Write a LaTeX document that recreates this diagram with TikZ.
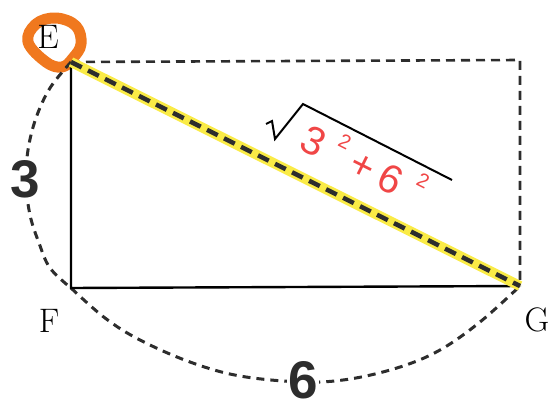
\documentclass[tikz,border=0pt]{standalone}
\usepackage{fontspec}
\newfontfamily\numsans{Liberation Sans}
\definecolor{hlyellow}{RGB}{250,235,70}
\definecolor{markorange}{RGB}{240,120,30}
\definecolor{numred}{RGB}{240,70,70}
\definecolor{darkgray}{RGB}{45,45,45}
\tikzset{
  leg/.style={line width=2.4pt, black},
  guide/.style={line width=2.6pt, darkgray, dash pattern=on 9pt off 6pt},
  arcline/.style={line width=3pt, darkgray, dash pattern=on 8pt off 6pt},
  vlabel/.style={font=\fontsize{34}{34}\selectfont, inner sep=0pt},
  numlabel/.style={font=\numsans\bfseries\fontsize{53}{53}\selectfont, text=darkgray, fill=white, inner sep=1pt},
}
\newcommand{\supdigit}[1]{\raisebox{20pt}{\fontsize{20}{20}\selectfont #1}}
\begin{document}
\begin{tikzpicture}[x=1pt,y=-1pt]
\useasboundingbox (0,0) rectangle (552,410);
\coordinate (E) at (71,62);
\coordinate (F) at (71,288);
\coordinate (G) at (520,286);
\coordinate (R) at (520,60);
% orange mark around E
\draw[markorange, line width=11pt, line join=round]
  plot[smooth cycle, tension=0.65] coordinates {(28,42) (36,24) (56,18) (76,26) (81,44) (73,58) (62,67) (46,62)};
% dashed rectangle part
\draw[guide] (E) -- (R) -- (G);
% arcs
\draw[arcline] plot[smooth, tension=0.6] coordinates {(E) (50,88) (36,118) (28,150) (26,182) (30,215) (39,243) (50,268) (F)};
\draw[arcline] plot[smooth, tension=0.6] coordinates {(F) (105,318) (140,340) (190,362) (240,376) (303,382) (350,379) (400,367) (440,350) (480,322) (G)};
% triangle legs
\draw[leg] (E) -- (F) -- (G);
% hypotenuse
\draw[hlyellow, line width=10pt] (E) -- (G);
\draw[darkgray, line width=4.5pt, dash pattern=on 12pt off 7pt] (E) -- (G);
% radical
\coordinate (r1) at (266,124);
\coordinate (r2) at (272,121);
\coordinate (r3) at (275,139);
\coordinate (r4) at (303,104);
\coordinate (r5) at (452,180);
\draw[line width=2pt, line join=miter] (r1) -- (r2) -- (r3) -- (r4) -- (r5);
\node[rotate=-26.6, anchor=base west, text=numred, font=\numsans\fontsize{40}{40}\selectfont, inner sep=0pt] (sq) at (297,148)
  {3\hspace{12pt}\supdigit{2}\hspace{10pt}+\hspace{8pt}6\hspace{13pt}\supdigit{2}};
% labels
\node[vlabel] (lE) at (48,37) {E};
\node[vlabel] (lF) at (49,321) {F};
\node[vlabel] (lG) at (537,320) {G};
\node[numlabel] (n3) at (25,179) {3};
\node[numlabel] (n6) at (303,380) {6};
\end{tikzpicture}
\end{document}
